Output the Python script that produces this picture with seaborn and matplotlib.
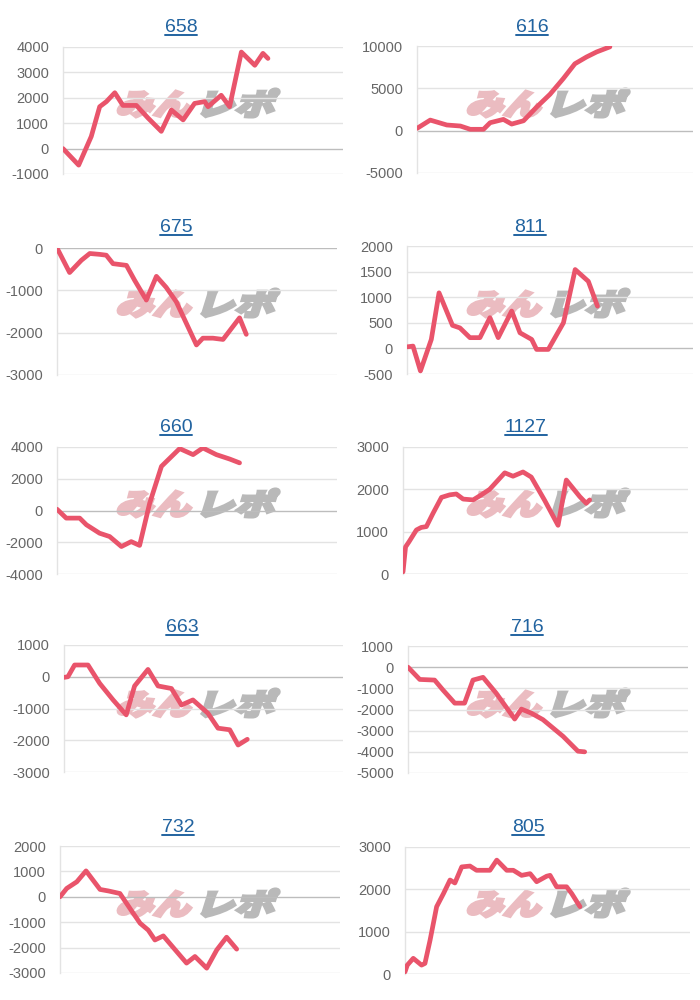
import matplotlib
matplotlib.use("Agg")
import matplotlib.pyplot as plt
import seaborn as sns
import pandas as pd
from matplotlib.textpath import TextPath
from matplotlib.font_manager import FontProperties
from matplotlib.patches import PathPatch
from matplotlib.transforms import Affine2D, IdentityTransform
from matplotlib.lines import Line2D

sns.set_theme(style="white")
plt.rcParams['font.family'] = ['Liberation Sans', 'DejaVu Sans']

# ---- data (x: position along the axis in % of its width, y: value) ----
titles = ["658", "616", "675", "811", "660", "1127", "663", "716", "732", "805"]

x_658 = [0, 5.6, 10.1, 13.1, 15.5, 18.5, 21.4, 26.2, 30.4, 35.1, 38.7, 42.9, 47.0, 50.6, 51.8, 56.5, 59.5, 63.7, 68.5, 71.4, 73.2]
y_658 = [0, -650, 480, 1650, 1850, 2200, 1700, 1700, 1200, 680, 1520, 1130, 1780, 1850, 1650, 2100, 1650, 3800, 3280, 3750, 3550]

x_616 = [0, 4.8, 10.8, 15.7, 19.3, 24.1, 26.5, 31.3, 34.3, 38.6, 43.4, 48.2, 53.0, 57.2, 61.4, 65.1, 69.9]
y_616 = [270, 1250, 670, 550, 160, 160, 940, 1330, 780, 1170, 2800, 4300, 6150, 7900, 8700, 9300, 9900]

x_675 = [0, 4.5, 8.7, 11.7, 15.2, 17.6, 20.0, 24.8, 27.7, 31.9, 35.5, 39.0, 42.6, 46.2, 49.8, 52.1, 55.7, 59.3, 65.2, 67.6]
y_675 = [0, -580, -290, -130, -150, -170, -370, -410, -760, -1230, -670, -930, -1270, -1780, -2290, -2130, -2130, -2160, -1650, -2040]

x_811 = [0, 2.1, 4.7, 8.5, 11.2, 15.9, 18.5, 22.0, 25.5, 29.0, 31.9, 36.6, 39.5, 43.6, 45.3, 49.4, 54.7, 58.8, 63.4, 66.6]
y_811 = [30, 45, -440, 175, 1085, 450, 400, 210, 210, 600, 210, 730, 305, 175, -20, -20, 500, 1540, 1310, 825]

x_660 = [0, 3.3, 8.1, 10.5, 15.2, 18.8, 23.0, 26.5, 29.5, 33.1, 37.3, 43.8, 48.6, 52.1, 56.9, 61.7, 65.2]
y_660 = [80, -480, -480, -900, -1430, -1640, -2270, -1960, -2200, 460, 2780, 3900, 3520, 3940, 3520, 3240, 3000]

x_1127 = [0, 0.9, 2.1, 4.7, 6.4, 8.2, 10.5, 13.5, 16.4, 18.7, 21.1, 24.6, 27.5, 30.4, 35.7, 38.6, 42.1, 45.0, 49.7, 54.4, 57.3, 62.0, 64.3, 65.5]
y_1127 = [50, 640, 760, 1040, 1100, 1120, 1430, 1810, 1870, 1890, 1770, 1750, 1870, 2000, 2390, 2310, 2410, 2290, 1740, 1150, 2220, 1830, 1670, 1750]

x_663 = [0, 1.4, 3.8, 8.6, 12.8, 17.6, 22.3, 25.3, 30.1, 33.7, 38.5, 42.1, 46.2, 51.6, 55.2, 59.4, 62.4, 65.7]
y_663 = [-20, 0, 370, 370, -210, -730, -1200, -290, 230, -290, -370, -890, -730, -1150, -1620, -1670, -2150, -1970]

x_716 = [0, 4.2, 9.5, 12.5, 16.7, 20.2, 23.2, 26.8, 31.5, 38.1, 40.5, 44.0, 48.2, 55.4, 60.7, 63.1]
y_716 = [0, -580, -610, -1080, -1700, -1700, -610, -480, -1230, -2450, -1980, -2170, -2480, -3270, -3970, -4000]

x_732 = [0, 2.4, 6.0, 9.3, 14.3, 17.3, 21.4, 25.0, 28.6, 31.5, 33.9, 36.9, 41.7, 45.2, 48.2, 52.4, 56.0, 59.5, 63.1]
y_732 = [0, 330, 590, 1020, 290, 230, 130, -460, -1040, -1310, -1700, -1540, -2160, -2610, -2350, -2810, -2090, -1590, -2060]

x_805 = [0, 0.8, 2.9, 5.8, 7.0, 8.8, 11.1, 13.5, 15.8, 17.5, 19.9, 22.8, 25.1, 29.8, 32.2, 35.7, 38.0, 40.9, 43.9, 46.2, 49.7, 50.9, 53.2, 56.7, 58.5, 61.4]
y_805 = [50, 210, 370, 210, 250, 800, 1590, 1900, 2220, 2150, 2530, 2550, 2450, 2450, 2690, 2450, 2450, 2330, 2370, 2180, 2310, 2330, 2060, 2060, 1900, 1590]

series_x = [x_658, x_616, x_675, x_811, x_660, x_1127, x_663, x_716, x_732, x_805]
series_y = [y_658, y_616, y_675, y_811, y_660, y_1127, y_663, y_716, y_732, y_805]

y_limits = [(-1000, 4000), (-5000, 10000), (-3000, 0), (-500, 2000), (-4000, 4000),
            (0, 3000), (-3000, 1000), (-5000, 1000), (-3000, 2000), (0, 3000)]
y_steps = [1000, 5000, 1000, 500, 2000, 1000, 1000, 1000, 1000, 1000]

# ---- layout (pixels) ----
W, H = 700, 1000
left_px = [63, 67, 57, 57, 57, 53, 64, 58, 60, 55]
right_px = [343, 343, 337, 343, 337, 338, 343, 338, 340, 340]
top_px = [47, 46, 48, 46, 47, 47, 45, 46, 46, 47]
bot_px = [174, 173, 175, 174, 174, 174, 172, 173, 173, 174]
title_cx = [181, 182, 176, 180, 176, 176, 182, 177, 178, 178]

LINE = "#e9546b"
TITLE_C = "#2163a0"
GRID = "#e3e3e3"
ZERO = "#bdbdbd"
TICK_C = "#666666"

fig = plt.figure(figsize=(W / 100, H / 100), dpi=100)
fig.patch.set_facecolor("white")

wm_font = FontProperties(family="Noto Sans CJK JP", weight="black")


def add_wm(text, box, color):
    # box: x0, y0 (top), x1, y1 (bottom) in figure pixels (top-left origin)
    tp = TextPath((0, 0), text, prop=wm_font, size=40)
    ext = tp.get_extents()
    x0, y0, x1, y1 = box
    w, h = x1 - x0, y1 - y0
    skew = 0.3
    sx = (w - h * skew) / ext.width
    sy = h / ext.height
    tr = (Affine2D().translate(-ext.x0, -ext.y0).scale(sx, sy)
          .skew(skew, 0).translate(x0, H - y1))
    patch = PathPatch(tr.transform_path(tp), facecolor=color, edgecolor=color,
                      linewidth=2.2, joinstyle="miter",
                      transform=IdentityTransform(), zorder=0.5)
    fig.add_artist(patch)


for i in range(10):
    r, c = divmod(i, 2)
    ox, oy = c * 350, r * 200
    l = (ox + left_px[i]) / W
    b = 1 - (oy + bot_px[i]) / H
    w = (right_px[i] - left_px[i]) / W
    h = (bot_px[i] - top_px[i]) / H
    # watermark behind the axes
    add_wm("みん", (ox + 116, oy + 91, ox + 196, oy + 117), "#ebbcc1")
    add_wm("レポ", (ox + 201, oy + 89, ox + 280, oy + 117), "#b9b9b9")

    ax = fig.add_axes([l, b, w, h])
    ax.set_facecolor("none")
    ax.set_zorder(2)
    df = pd.DataFrame({"x": series_x[i], "y": series_y[i]})
    sns.lineplot(data=df, x="x", y="y", ax=ax, color=LINE, linewidth=3.4,
                 estimator=None, sort=False, zorder=3,
                 solid_joinstyle="round", solid_capstyle="round")
    lo, hi = y_limits[i]
    step = y_steps[i]
    ticks = list(range(lo, hi + 1, step))
    ax.set_ylim(lo, hi)
    ax.set_xlim(0, 100)
    ax.set_yticks(ticks)
    ax.set_yticklabels([str(t) for t in ticks])
    ax.set_xticks([])
    for t in ticks:
        ax.axhline(t, color=ZERO if t == 0 else GRID, lw=1.0, zorder=1)
    for s in ["top", "right", "bottom"]:
        ax.spines[s].set_visible(False)
    ax.spines["left"].set_color(GRID)
    ax.spines["left"].set_linewidth(1.0)
    ax.tick_params(axis="y", length=0, pad=10, labelsize=10.5, labelcolor=TICK_C)
    ax.set_xlabel("")
    ax.set_ylabel("")
    ax.grid(False)
    fig.text((ox + title_cx[i]) / W, 1 - (oy + 32) / H, titles[i],
             ha="center", va="baseline", fontsize=14, color=TITLE_C)

# underline titles
fig.canvas.draw()
renderer = fig.canvas.get_renderer()
for t in list(fig.texts):
    bb = t.get_window_extent(renderer)
    yline = bb.y0 + 1
    fig.add_artist(Line2D([bb.x0, bb.x1], [yline, yline], color=TITLE_C, lw=1.4,
                          transform=IdentityTransform()))

fig.savefig("out.png", dpi=100)
